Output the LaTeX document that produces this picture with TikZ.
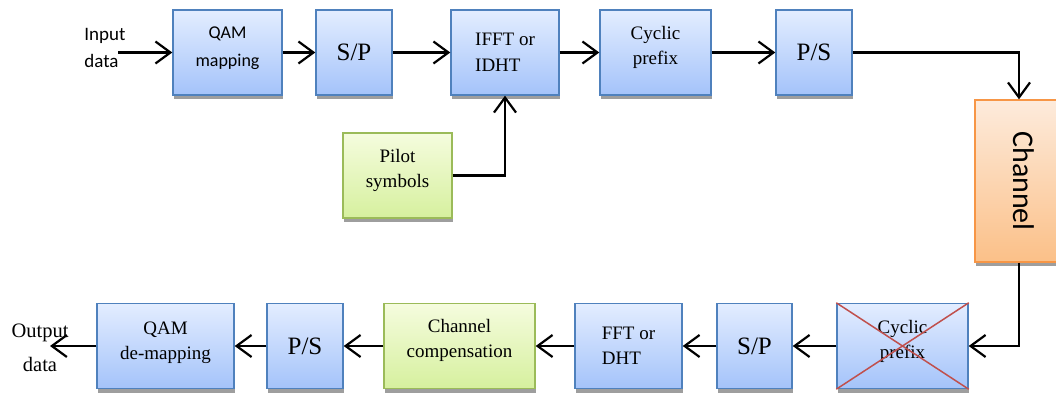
\documentclass[tikz,border=0pt]{standalone}
\usepackage{fontspec}
\setmainfont{Liberation Serif}
\newfontfamily\calibri{Carlito}
\usepackage{graphicx}
\usetikzlibrary{arrows.meta,shadows}
\definecolor{boxblue}{RGB}{79,129,189}
\definecolor{bluetop}{RGB}{227,237,255}
\definecolor{bluebot}{RGB}{164,195,250}
\definecolor{boxgreen}{RGB}{155,187,89}
\definecolor{greentop}{RGB}{245,252,222}
\definecolor{greenbot}{RGB}{214,240,158}
\definecolor{boxorange}{RGB}{247,150,70}
\definecolor{orangetop}{RGB}{253,235,220}
\definecolor{orangebot}{RGB}{251,192,136}
\definecolor{crossred}{RGB}{192,80,77}
\tikzset{
  shd/.style={drop shadow={shadow xshift=1pt,shadow yshift=-4pt,fill=black!38,opacity=1}},
  blk/.style={draw=boxblue,line width=1.4pt,top color=bluetop,bottom color=bluebot,shd,
              minimum width=#1,minimum height=85pt,inner sep=0pt,align=center},
  gblk/.style={draw=boxgreen,line width=1.4pt,top color=greentop,bottom color=greenbot,shd,
               minimum width=#1,minimum height=85pt,inner sep=0pt,align=center},
  oblk/.style={draw=boxorange,line width=1.4pt,top color=orangetop,bottom color=orangebot,shd,
               minimum width=#1,minimum height=162pt,inner sep=0pt},
  up/.style={text depth=#1},
  ar/.style={-{Straight Barb[length=15pt,width=22pt]},line width=2.2pt},
  sansf/.style={font=\calibri\fontsize{18}{28}\selectfont},
  serf/.style={font=\fontsize{19}{25.5}\selectfont},
  big/.style={font=\fontsize{25}{30}\selectfont},
}
\begin{document}
\begin{tikzpicture}[x=1pt,y=-1pt]
  \useasboundingbox (0,0) rectangle (1056,396);
  \clip (0,0) rectangle (1056,396);
  % transmitter
  \node[font=\calibri\fontsize{19}{27}\selectfont,align=left,inner sep=0pt] (in) at (105,48) {Input\\data};
  \coordinate (inend) at (118,52.5);
  \node[blk=109pt,sansf,up=12pt] (qm) at (227.5,52.5) {QAM\\mapping};
  \node[blk=76pt,big,up=0pt] (sp1) at (354,52.5) {S/P};
  \node[blk=108pt,serf,align=left] (ifft) at (505,52.5) {IFFT or\\IDHT};
  \node[blk=111pt,serf,up=14pt] (cp1) at (655.5,52.5) {Cyclic\\prefix};
  \node[blk=76pt,big,up=0pt] (ps1) at (814,52.5) {P/S};
  \node[gblk=109pt,serf,up=14pt] (pil) at (397.5,175.5) {Pilot\\symbols};
  % channel
  \node[oblk=88pt,font=\calibri\fontsize{30}{32}\selectfont] (ch) at (1019,181)
    {\hspace*{10pt}\rotatebox{-90}{Channel}};
  % receiver
  \node[blk=131pt,serf,up=13pt] (cp2) at (902.5,346) {Cyclic\\prefix};
  \draw[crossred,line width=1.5pt] (cp2.north west) -- (cp2.south east)
    (cp2.south west) -- (cp2.north east);
  \node[blk=75pt,big,up=0pt] (sp2) at (754.5,346) {S/P};
  \node[blk=107pt,serf,align=left] (fft) at (628.5,346) {FFT or\\DHT};
  \node[gblk=151pt,serf,up=15pt] (cc) at (459.5,346) {Channel\\compensation};
  \node[blk=76pt,big,up=0pt] (ps2) at (305,346) {P/S};
  \node[blk=137pt,serf,up=11pt] (qd) at (165.5,346) {QAM\\de-mapping};
  \node[font=\fontsize{20.5}{34}\selectfont,align=center,inner sep=0pt] (out) at (40,348) {Output\\data};
  \coordinate (outend) at (50,346);
  % connectors
  \draw[ar] (inend) -- (qm);
  \draw[ar] (qm) -- (sp1);
  \draw[ar] (sp1) -- (ifft);
  \draw[ar] (ifft) -- (cp1);
  \draw[ar] (cp1) -- (ps1);
  \draw[ar] (pil.east) -| (ifft.south);
  \draw[ar] (ps1.east) -| (ch.north);
  \draw[ar] (ch.south) |- (cp2.east);
  \draw[ar] (cp2) -- (sp2);
  \draw[ar] (sp2) -- (fft);
  \draw[ar] (fft) -- (cc);
  \draw[ar] (cc) -- (ps2);
  \draw[ar] (ps2) -- (qd);
  \draw[ar] (qd.west) -- (outend);
\end{tikzpicture}
\end{document}
